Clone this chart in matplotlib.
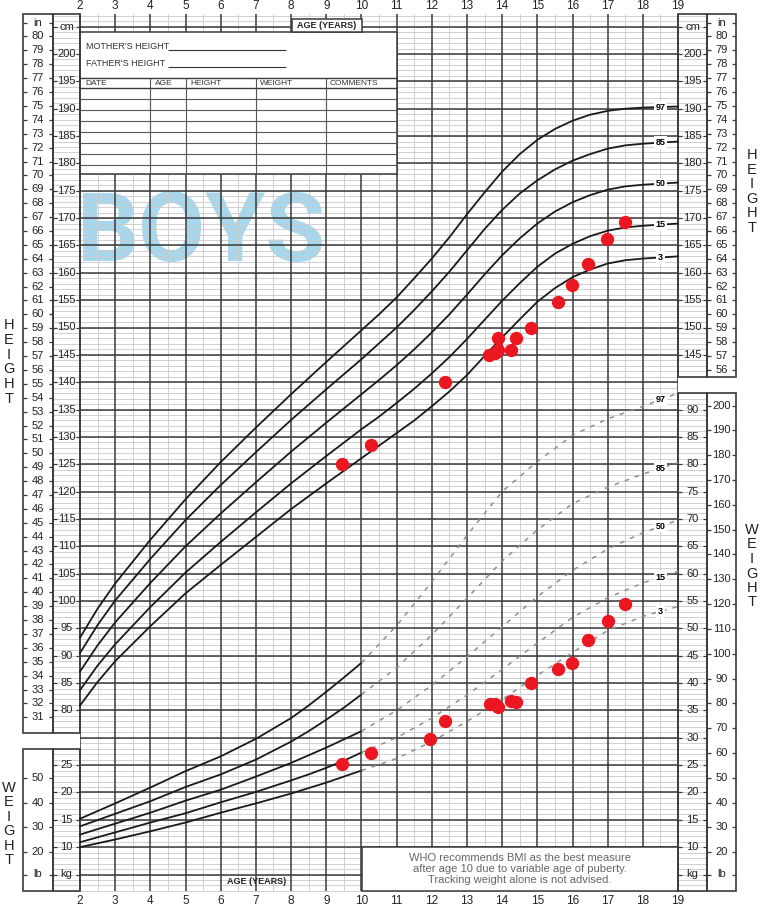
import matplotlib.pyplot as plt
from matplotlib.patches import Rectangle
import numpy as np

plt.rcParams['font.family'] = ['Liberation Sans', 'DejaVu Sans']

# ---------------- data ----------------
pct_labels = ['97', '85', '50', '15', '3']

# height-for-age percentiles (cm)
h_ages = [2, 2.5, 3, 4, 5, 6, 7, 8, 9, 10, 10.5, 11, 11.5, 12, 12.5, 13, 13.5,
          14, 14.5, 15, 15.5, 16, 16.5, 17, 17.5, 18, 18.5, 19]
height_p97 = [93.3, 98.6, 103.2, 111.2, 118.6, 125.4, 131.7, 137.8, 143.7, 149.5,
              152.4, 155.5, 159.0, 162.6, 166.5, 170.7, 174.7, 178.5, 181.7, 184.3,
              186.3, 187.8, 188.9, 189.6, 190.0, 190.2, 190.3, 190.4]
height_p85 = [90.5, 95.6, 100.1, 107.7, 114.8, 121.2, 127.2, 133.1, 138.7, 144.2,
              147.1, 150.0, 153.2, 156.6, 160.2, 164.1, 168.0, 171.5, 174.5, 176.9,
              178.9, 180.5, 181.7, 182.7, 183.3, 183.6, 183.8, 184.0]
height_p50 = [87.1, 91.9, 96.1, 103.3, 110.0, 116.0, 121.7, 127.3, 132.6, 137.8,
              140.4, 143.1, 146.0, 149.1, 152.4, 156.0, 159.7, 163.2, 166.3, 169.0,
              171.2, 172.9, 174.2, 175.2, 175.8, 176.1, 176.3, 176.5]
height_p15 = [83.7, 88.2, 92.1, 98.9, 105.2, 110.8, 116.2, 121.5, 126.5, 131.4,
              133.7, 136.2, 138.8, 141.6, 144.6, 147.9, 151.4, 154.9, 158.1, 161.1,
              163.5, 165.3, 166.7, 167.7, 168.3, 168.6, 168.8, 169.0]
height_p3 = [80.9, 85.2, 89.0, 95.4, 101.4, 106.6, 111.7, 116.8, 121.5, 126.1,
             128.4, 130.7, 133.0, 135.6, 138.3, 141.3, 144.8, 148.2, 151.5, 154.7,
             157.2, 159.2, 160.6, 161.7, 162.3, 162.6, 162.8, 163.0]

# weight-for-age percentiles (kg), solid part 2-10 years
w_ages = [2, 3, 4, 5, 6, 7, 8, 8.5, 9, 9.5, 10]
weight_p97 = [15.2, 18.0, 20.9, 23.9, 26.6, 29.8, 33.6, 35.9, 38.4, 41.0, 43.7]
weight_p85 = [13.8, 16.1, 18.4, 21.0, 23.3, 26.0, 29.3, 31.2, 33.3, 35.5, 37.9]
weight_p50 = [12.3, 14.3, 16.3, 18.5, 20.5, 22.9, 25.4, 26.8, 28.2, 29.7, 31.2]
weight_p15 = [10.9, 12.7, 14.5, 16.2, 18.2, 20.1, 22.2, 23.3, 24.5, 25.8, 27.3]
weight_p3 = [10.0, 11.4, 12.9, 14.5, 16.3, 18.0, 19.8, 20.8, 21.8, 22.9, 24.0]

# dashed (tracking not advised) part 10-19 years
d_ages = [10, 11, 12, 13, 14, 15, 16, 17, 18, 19]
dash_p97 = [43.7, 50.5, 58.5, 67.0, 75.0, 80.5, 85.3, 88.3, 90.6, 93.0]
dash_p85 = [37.9, 42.8, 48.8, 55.5, 62.3, 68.0, 72.8, 75.8, 78.2, 80.3]
dash_p50 = [31.2, 35.0, 39.6, 44.8, 50.3, 55.8, 60.6, 64.5, 67.5, 69.8]
dash_p15 = [27.3, 30.0, 33.6, 37.8, 42.5, 47.3, 52.0, 55.6, 58.3, 60.4]
dash_p3 = [24.0, 26.2, 29.3, 33.0, 37.0, 41.4, 45.6, 49.6, 52.2, 54.0]

# the child's measurements
child_h_age = [9.44, 10.26, 12.37, 13.63, 13.80, 13.89, 13.87, 14.24, 14.39,
               14.82, 15.59, 15.99, 16.45, 16.99, 17.49]
child_h_cm = [125.0, 128.5, 140.0, 145.0, 145.3, 145.9, 148.0, 145.8, 148.0,
              149.9, 154.7, 157.8, 161.7, 166.2, 169.3]
child_w_age = [9.44, 10.26, 11.95, 12.37, 13.65, 13.80, 13.89, 14.24, 14.39,
               14.82, 15.60, 15.99, 16.45, 17.00, 17.49]
child_w_kg = [25.2, 27.3, 29.8, 33.0, 36.2, 36.2, 35.7, 36.8, 36.5,
              40.0, 42.6, 43.7, 47.8, 51.4, 54.5]

# ---------------- layout helpers (pixel -> chart units) ----------------
PX_YEAR = 35.18
PX_CM = 5.47
KG_SHIFT = 45  # 10 kg sits on the 55 cm line


def xa(px):
    return 2 + (px - 80) / PX_YEAR


def yh(py):
    return 200 - (py - 54) / PX_CM


def kg(w):
    return np.asarray(w, dtype=float) + KG_SHIFT


DARK = '#3a3a3a'
LIGHT = '#c9c9c9'
H_TOP, H_BOT = yh(14), yh(891)

fig = plt.figure(figsize=(7.6, 9.07), dpi=100)
ax = fig.add_axes([0, 0, 1, 1])
ax.set_xlim(xa(0), xa(760))
ax.set_ylim(yh(907), yh(0))
ax.axis('off')

# ---------------- grid ----------------
for h in range(47, 208):
    ax.hlines(h, xa(53), xa(707), color=LIGHT, lw=0.6, zorder=1)
for a in np.arange(2.5, 19, 1.0):
    ax.vlines(a, H_BOT, H_TOP, color=LIGHT, lw=0.6, zorder=1)
for h in range(50, 206, 5):
    ax.hlines(h, 2, 19, color=DARK, lw=1.1, zorder=2)
for a in range(2, 20):
    ax.vlines(a, H_BOT, H_TOP, color=DARK, lw=1.1, zorder=2)
    ax.text(a, yh(6), str(a), ha='center', va='center', fontsize=8.5, color='#222')
    ax.text(a, yh(901), str(a), ha='center', va='center', fontsize=8.5, color='#222')

# big watermark
ax.text(xa(77), yh(261), 'BOYS', fontsize=70, fontweight='bold', family='Roboto',
        color='#a6d7ec', ha='left', va='baseline', zorder=0.5)

# ---------------- side panels ----------------
def panel(x0, x1, y0, y1):
    ax.add_patch(Rectangle((xa(x0), yh(y1)), xa(x1) - xa(x0), yh(y0) - yh(y1),
                           facecolor='none', edgecolor=DARK, lw=1.2, zorder=4))


def white(x0, x1, y0, y1, edge='none', z=3):
    ax.add_patch(Rectangle((xa(x0), yh(y1)), xa(x1) - xa(x0), yh(y0) - yh(y1),
                           facecolor='white', edgecolor=edge, lw=1.1, zorder=z))


white(23, 80, 733, 749)
white(678, 736, 377, 393)
panel(23, 53, 14, 733)
panel(53, 80, 14, 733)
panel(23, 53, 749, 891)
panel(53, 80, 749, 891)
panel(678, 707, 14, 377)
panel(707, 736, 14, 377)
panel(678, 707, 393, 891)
panel(707, 736, 393, 891)


def side_label(val, xc, x0, x1, text):
    ax.text(xa(xc), val, text, ha='center', va='center', fontsize=8, color='#222', zorder=5)
    ax.hlines(val, xa(x0), xa(x0 + 4), color=DARK, lw=0.9, zorder=5)
    ax.hlines(val, xa(x1 - 4), xa(x1), color=DARK, lw=0.9, zorder=5)


for cm in range(80, 201, 5):
    side_label(cm, 66.5, 53, 80, str(cm))
for inch in range(31, 81):
    side_label(inch * 2.54, 38, 23, 53, str(inch))
for cm in range(145, 201, 5):
    side_label(cm, 692.5, 678, 707, str(cm))
for inch in range(56, 81):
    side_label(inch * 2.54, 721.5, 707, 736, str(inch))
for w in range(10, 26, 5):
    side_label(w + KG_SHIFT, 66.5, 53, 80, str(w))
for lb in range(20, 51, 10):
    side_label(lb * 0.4536 + KG_SHIFT, 38, 23, 53, str(lb))
for w in range(10, 91, 5):
    side_label(w + KG_SHIFT, 692.5, 678, 707, str(w))
for lb in range(20, 201, 10):
    side_label(lb * 0.4536 + KG_SHIFT, 721.5, 707, 736, str(lb))
for xc, x0, x1, txt, v in [(66.5, 53, 80, 'cm', 205), (38, 23, 53, 'in', 81 * 2.54),
                           (692.5, 678, 707, 'cm', 205), (721.5, 707, 736, 'in', 81 * 2.54),
                           (66.5, 53, 80, 'kg', 50), (38, 23, 53, 'lb', 50),
                           (692.5, 678, 707, 'kg', 50), (721.5, 707, 736, 'lb', 50)]:
    side_label(v, xc, x0, x1, txt)


def vword(word, px, py0, step):
    for i, ch in enumerate(word):
        ax.text(xa(px), yh(py0 + i * step), ch, ha='center', va='center',
                fontsize=10.5, color='#222')


vword('HEIGHT', 9, 325, 14.8)
vword('WEIGHT', 9, 788, 14.5)
vword('HEIGHT', 752, 155, 14.6)
vword('WEIGHT', 752, 530, 14.5)

# ---------------- record table (top left) ----------------
white(80, 396.6, 32, 174, edge=DARK)
ax.hlines([yh(78), yh(88)], 2, 11, color=DARK, lw=1.0, zorder=4)
ax.hlines([yh(p) for p in (99, 110, 121, 132, 143, 154, 165)], 2, 11,
          color='#555', lw=0.8, zorder=4)
ax.vlines([4, 5, 7, 9], yh(174), yh(78), color='#555', lw=0.8, zorder=4)
ax.text(xa(86), yh(47), "MOTHER'S HEIGHT", fontsize=6.5, va='center', color='#333', zorder=5)
ax.text(xa(86), yh(64), "FATHER'S HEIGHT", fontsize=6.5, va='center', color='#333', zorder=5)
ax.hlines([yh(49.5), yh(66.5)], xa(168), xa(286), color='#333', lw=0.8, zorder=5)
for px, txt in [(85, 'DATE'), (155, 'AGE'), (190, 'HEIGHT'), (260, 'WEIGHT'), (330, 'COMMENTS')]:
    ax.text(xa(px), yh(83.5), txt, fontsize=6, va='center', color='#333', zorder=5)
white(291.5, 361.5, 19, 32, edge=DARK)
ax.text(9, yh(25.5), 'AGE (YEARS)', fontsize=6.5, fontweight='bold', ha='center',
        va='center', color='#222', zorder=5)
ax.text(xa(257), yh(882), 'AGE (YEARS)', fontsize=6.5, fontweight='bold', ha='center',
        va='center', color='#222', zorder=5)

# ---------------- WHO note (bottom right) ----------------
white(361.5, 678, 847.5, 891, edge=DARK)
ax.text(14.5, yh(869), 'WHO recommends BMI as the best measure\n'
        'after age 10 due to variable age of puberty.\n'
        'Tracking weight alone is not advised.',
        ha='center', va='center', fontsize=8, color='#666', linespacing=1.15, zorder=5)

# ---------------- percentile curves ----------------
height_curves = [height_p97, height_p85, height_p50, height_p15, height_p3]
weight_curves = [weight_p97, weight_p85, weight_p50, weight_p15, weight_p3]
dash_curves = [dash_p97, dash_p85, dash_p50, dash_p15, dash_p3]

for lab, hc, wc, dc in zip(pct_labels, height_curves, weight_curves, dash_curves):
    ax.plot(h_ages, hc, color='#1a1a1a', lw=1.3, zorder=6)
    ax.plot(w_ages, kg(wc), color='#1a1a1a', lw=1.3, zorder=6)
    ax.plot(d_ages, kg(dc), color='#8f8f8f', lw=1.1, ls=(0, (3, 4)), zorder=6)
    ax.text(18.5, np.interp(18.5, h_ages, hc), lab, fontsize=6.5, fontweight='bold',
            ha='center', va='center', zorder=7,
            bbox=dict(facecolor='white', edgecolor='none', pad=1.2))
    ax.text(18.5, np.interp(18.5, d_ages, kg(dc)), lab, fontsize=6.5, fontweight='bold',
            ha='center', va='center', zorder=7,
            bbox=dict(facecolor='white', edgecolor='none', pad=1.2))

# ---------------- measurements ----------------
ax.plot(child_h_age, child_h_cm, 'o', color='#ea1620', ms=9.6, mec='none', zorder=8)
ax.plot(child_w_age, kg(child_w_kg), 'o', color='#ea1620', ms=9.6, mec='none', zorder=8)

fig.savefig('out.png', dpi=100, facecolor='white')
